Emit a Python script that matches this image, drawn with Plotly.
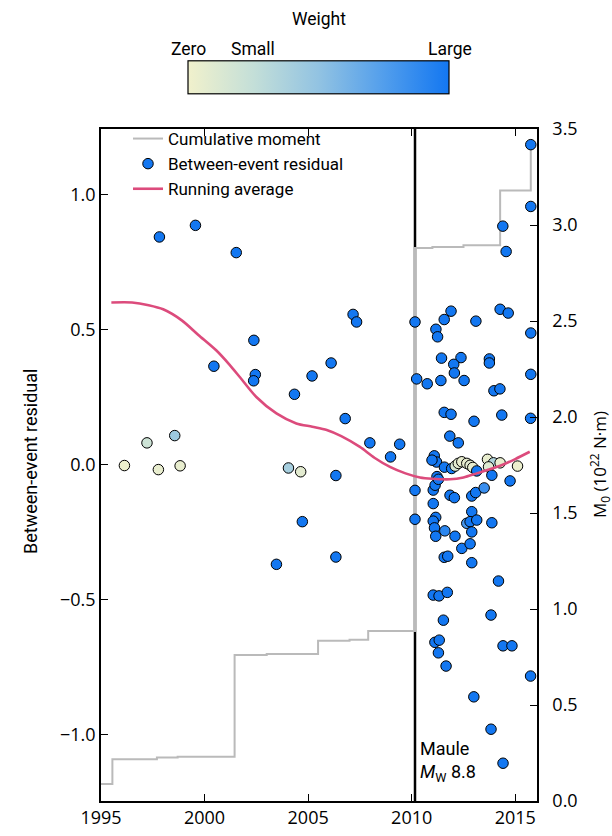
import plotly.graph_objects as go

# ---- cumulative seismic moment (10^22 N·m), step function ----
moment_years = [1995.0, 1995.55, 1997.7, 1998.7, 2001.45, 2003.0, 2005.48, 2007.0,
                2007.9, 2010.16, 2011.0, 2012.5, 2014.27, 2015.75]
moment_vals = [0.089, 0.217, 0.226, 0.231, 0.760, 0.766, 0.835, 0.840,
               0.885, 2.880, 2.885, 2.895, 3.180, 3.420]

# ---- between-event residuals: year, residual, weight (0 = zero, 1 = large) ----
event_years = [
    1997.82, 1999.56, 2001.53, 2000.45, 2002.38, 2002.45, 2002.37, 2004.34, 2005.19,
    2006.11, 2007.17, 2007.34, 2006.79, 2007.98, 2008.98, 2009.42, 1996.13, 1997.22,
    1997.77, 1998.56, 1998.82, 2004.05, 2004.64, 2006.34, 2004.72, 2003.47, 2006.34,
    2010.16, 2010.24, 2010.16, 2010.16,
    2015.75, 2015.75, 2014.40, 2014.56, 2011.90, 2011.57, 2011.17, 2011.25, 2013.10,
    2014.27, 2014.66, 2015.75, 2011.44, 2012.38, 2012.03, 2012.06, 2013.75, 2013.75,
    2015.75, 2010.75, 2011.41, 2012.53, 2013.97, 2014.26, 2011.57, 2011.90, 2013.01,
    2014.35, 2015.74, 2011.84, 2012.25, 2011.09, 2011.20, 2010.98, 2011.58, 2011.93,
    2012.10, 2012.25, 2012.42, 2012.66, 2012.82, 2012.95, 2013.66, 2013.95, 2014.27,
    2013.71, 2015.11,
    2013.14, 2013.87, 2014.75, 2011.04, 2011.13, 2011.22, 2011.29, 2011.04, 2011.85,
    2012.06, 2012.90, 2013.09, 2013.50, 2012.90, 2011.16, 2011.04, 2011.10, 2011.16,
    2011.60, 2012.09, 2012.66, 2012.82, 2013.14, 2012.90, 2013.87, 2012.42, 2012.82,
    2011.57, 2011.74, 2012.90, 2014.19, 2011.04, 2011.32, 2011.72, 2011.53, 2013.83,
    2011.12, 2011.33, 2011.29, 2011.66, 2014.41, 2014.84, 2015.74, 2013.00, 2013.83,
    2014.41,
]
event_resid = [
    0.843, 0.886, 0.785, 0.364, 0.460, 0.333, 0.310, 0.260, 0.328,
    0.376, 0.556, 0.528, 0.170, 0.080, 0.028, 0.075, -0.004, 0.080,
    -0.019, 0.107, -0.005, -0.013, -0.027, -0.041, -0.212, -0.370, -0.343,
    0.528, 0.317, -0.096, -0.203,
    1.185, 0.956, 0.883, 0.789, 0.568, 0.537, 0.501, 0.473, 0.531,
    0.575, 0.561, 0.487, 0.394, 0.396, 0.371, 0.339, 0.391, 0.376,
    0.334, 0.299, 0.311, 0.311, 0.273, 0.280, 0.193, 0.186, 0.160,
    0.183, 0.171, 0.105, 0.080, 0.032, 0.009, 0.016, -0.010, -0.015,
    -0.006, 0.004, 0.010, 0.004, -0.003, -0.011, 0.019, 0.006, 0.006,
    -0.009, -0.006,
    -0.024, -0.040, -0.061, -0.095, -0.077, -0.045, -0.055, -0.145, -0.114,
    -0.123, -0.117, -0.104, -0.087, -0.175, -0.196, -0.210, -0.235, -0.266,
    -0.246, -0.266, -0.218, -0.212, -0.206, -0.250, -0.216, -0.311, -0.294,
    -0.344, -0.340, -0.364, -0.432, -0.484, -0.487, -0.474, -0.577, -0.558,
    -0.659, -0.651, -0.698, -0.747, -0.672, -0.672, -0.784, -0.861, -0.981,
    -1.107,
]
event_weight = [
    1, 1, 1, 1, 1, 1, 1, 1, 1,
    1, 1, 1, 1, 1, 1, 1, 0.03, 0.2,
    0.05, 0.45, 0.05, 0.4, 0.08, 1, 1, 1, 1,
    1, 1, 1, 1,
    1, 1, 1, 1, 1, 1, 1, 1, 1,
    1, 1, 1, 1, 1, 1, 1, 1, 1,
    1, 1, 1, 1, 1, 1, 1, 1, 1,
    1, 1, 1, 1, 1, 1, 1, 1, 1,
    0.15, 0.08, 0.05, 0.05, 0.08, 0.05, 0.05, 0.35, 0.05,
    0.1, 0.03,
    1, 1, 1, 1, 1, 1, 1, 1, 1,
    1, 1, 1, 0.85, 1, 1, 1, 1, 1,
    0.9, 1, 0.8, 1, 1, 1, 1, 1, 1,
    1, 1, 1, 1, 1, 1, 1, 1, 1,
    1, 1, 1, 1, 1, 1, 1, 1, 1,
    1,
]

# ---- running average of the residuals ----
avg_years = [1995.5, 1996.5, 1997.3, 1998.0, 1998.9, 1999.7, 2000.56, 2001.2, 2001.7,
             2002.5, 2003.47, 2004.43, 2005.2, 2005.9, 2006.6, 2007.5, 2008.2, 2008.95,
             2009.7, 2010.4, 2011.0, 2011.85, 2012.5, 2013.14, 2014.27, 2015.0, 2015.7]
avg_vals = [0.600, 0.600, 0.590, 0.575, 0.534, 0.480, 0.423, 0.370, 0.324,
            0.250, 0.189, 0.152, 0.140, 0.128, 0.105, 0.065, 0.025, -0.009,
            -0.033, -0.048, -0.053, -0.055, -0.048, -0.033, -0.005, 0.020, 0.047]

year_ticks = [1995, 2000, 2005, 2010, 2015]
resid_ticks = [-1.0, -0.5, 0.0, 0.5, 1.0]
moment_ticks = [0.0, 0.5, 1.0, 1.5, 2.0, 2.5, 3.0, 3.5]
maule_year = 2010.16

weight_scale = [[0.0, "#f1f1cc"], [0.25, "#c4dfd8"], [0.5, "#92c3e2"],
                [0.75, "#529eec"], [1.0, "#1377f1"]]

TICK_FONT = dict(family="Open Sans", size=18, color="black")
TEXT_FONT = "Roboto"

fig = go.Figure()

fig.add_trace(go.Scatter(
    x=moment_years, y=moment_vals, yaxis="y", mode="lines",
    line=dict(color="#bababa", width=2, shape="hv"),
    name="Cumulative moment",
))

fig.add_trace(go.Scatter(
    x=event_years, y=event_resid, yaxis="y2", mode="markers",
    name="Between-event residual",
    marker=dict(
        size=10.5, color=event_weight, colorscale=weight_scale, cmin=0, cmax=1,
        line=dict(color="black", width=1),
        colorbar=dict(
            orientation="h", lenmode="pixels", len=261, thickness=33,
            x=(318.8 - 101) / 436, xanchor="center",
            y=(801 - 95) / 672, yanchor="bottom",
            xpad=0, ypad=0, outlinecolor="black", outlinewidth=1.2,
            showticklabels=False, ticks="",
        ),
    ),
))

fig.add_trace(go.Scatter(
    x=avg_years, y=avg_vals, yaxis="y2", mode="lines",
    line=dict(color="#dc4b7c", width=2.6, shape="spline", smoothing=0.8),
    name="Running average",
))

# Maule earthquake marker line
fig.add_shape(type="line", xref="x", yref="paper", x0=maule_year, x1=maule_year,
              y0=0, y1=1, line=dict(color="black", width=2.5), layer="below")

annotations = [
    dict(text="Maule<br><i>M</i><sub>W</sub> 8.8", xref="paper", yref="paper",
         x=(418 - 101) / 436, y=(801 - 761) / 672, xanchor="left", yanchor="middle",
         align="left", showarrow=False, font=dict(family=TEXT_FONT, size=18, color="black")),
    dict(text="Between-event residual", xref="paper", yref="paper",
         x=(30 - 101) / 436, y=(801 - 462) / 672, textangle=-90, showarrow=False,
         xanchor="center", yanchor="middle",
         font=dict(family=TEXT_FONT, size=18, color="black")),
    dict(text="M<sub>0</sub> (10<sup>22</sup> N·m)", xref="paper", yref="paper",
         x=(599 - 101) / 436, y=(801 - 465) / 672, textangle=-90, showarrow=False,
         xanchor="center", yanchor="middle",
         font=dict(family="Open Sans", size=17, color="black")),
    dict(text="Weight", xref="paper", yref="paper", x=(319 - 101) / 436,
         y=(801 - 19) / 672, showarrow=False, xanchor="center", yanchor="middle",
         font=dict(family=TEXT_FONT, size=17.5, color="black")),
]
for label, px in [("Zero", 188.3), ("Small", 252.5), ("Large", 450)]:
    annotations.append(dict(text=label, xref="paper", yref="paper", x=(px - 101) / 436,
                            y=(801 - 49) / 672, showarrow=False, xanchor="center",
                            yanchor="middle",
                            font=dict(family=TEXT_FONT, size=17.5, color="black")))

fig.update_layout(
    width=612, height=836,
    margin=dict(l=101, r=75, t=129, b=35, autoexpand=False),
    plot_bgcolor="white", paper_bgcolor="white",
    showlegend=True,
    legend=dict(x=(128 - 101) / 436, y=(801 - 121) / 672, xanchor="left", yanchor="top",
                bgcolor="rgba(0,0,0,0)", font=dict(family=TEXT_FONT, size=17, color="black"),
                tracegroupgap=0),
    xaxis=dict(range=[1995, 2016.05], tickvals=year_ticks, ticks="inside", ticklen=7,
               tickwidth=1.3, tickcolor="black", showline=True, linecolor="black",
               linewidth=1.5, mirror="ticks", showgrid=False, zeroline=False,
               tickfont=TICK_FONT, ticklabelstandoff=0, automargin=False),
    yaxis=dict(range=[0, 3.5], tickvals=moment_ticks, tickformat=".1f", side="right",
               ticks="inside", ticklen=7, tickwidth=1.3, tickcolor="black",
               showline=True, linecolor="black", linewidth=1.5, showgrid=False,
               zeroline=False, tickfont=TICK_FONT, ticklabelstandoff=10, automargin=False),
    yaxis2=dict(range=[-1.247, 1.243], tickvals=resid_ticks, tickformat=".1f",
                overlaying="y", side="left", ticks="inside", ticklen=7, tickwidth=1.3,
                tickcolor="black", showline=True, linecolor="black", linewidth=1.5,
                showgrid=False, zeroline=False, tickfont=TICK_FONT, ticklabelstandoff=0,
                automargin=False),
    annotations=annotations,
)

fig.write_html("out.html")
